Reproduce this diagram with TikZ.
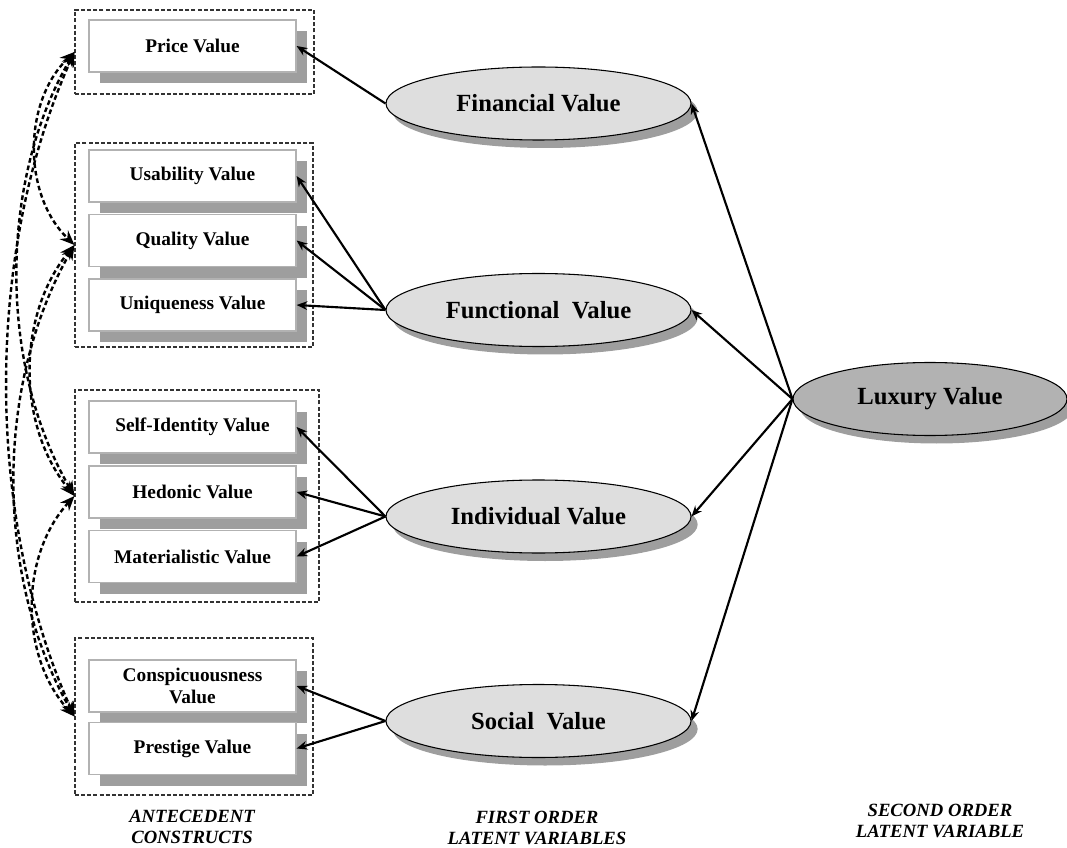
\documentclass[tikz,border=0pt]{standalone}
\usepackage{fontspec}
\setmainfont{Liberation Serif}
\usetikzlibrary{shapes.geometric,shadows,arrows.meta}

\definecolor{shadowgray}{RGB}{158,158,158}
\definecolor{latentfill}{RGB}{222,222,222}
\definecolor{luxfill}{RGB}{178,178,178}

\tikzset{
  item/.style={draw=gray!60, fill=white, line width=0.9pt, minimum width=155.25pt,
    minimum height=39pt, inner sep=0pt, align=center,
    font=\bfseries\fontsize{14.5}{17}\selectfont,
    drop shadow={shadow xshift=8pt, shadow yshift=-8.5pt, fill=shadowgray, opacity=1}},
  grp/.style={draw=black!80, dash pattern=on 3pt off 1.6pt, line width=0.8pt, inner sep=0pt},
  latent/.style={ellipse, draw, fill=latentfill, line width=0.8pt, minimum width=228.75pt,
    minimum height=54.75pt, inner sep=0pt, font=\bfseries\fontsize{18.5}{20}\selectfont,
    drop shadow={shadow xshift=5pt, shadow yshift=-6pt, fill=shadowgray, opacity=1}},
  caption/.style={align=center, font=\bfseries\itshape\fontsize{14}{15.5}\selectfont},
  load/.style={-{Stealth[length=8pt,width=6.5pt]}, line width=1.6pt},
  cov/.style={{Stealth[length=11pt,width=9pt]}-{Stealth[length=11pt,width=9pt]},
    dash pattern=on 3.5pt off 2.2pt, line width=1.8pt}
}

\begin{document}
\begin{tikzpicture}[x=0.75pt,y=0.75pt,yscale=-1,xscale=1]
\useasboundingbox (0,0) rectangle (1067,848);

% Groups
\node[grp, minimum width=179.25pt, minimum height=63pt] (grp1) at (194.5,52) {};
\node[grp, minimum width=178.5pt, minimum height=153pt] (grp2) at (194,245) {};
\node[grp, minimum width=183pt, minimum height=159pt] (grp3) at (197,496) {};
\node[grp, minimum width=178.5pt, minimum height=117.75pt] (grp4) at (194,716.5) {};

% Antecedent constructs
\node[item] (price) at (192.5,46) {Price Value};
\node[item] (usab) at (192.5,176) {Usability Value};
\node[item] (qual) at (192.5,240.5) {Quality Value};
\node[item] (uniq) at (192.5,305) {Uniqueness Value};
\node[item] (self) at (192.5,427) {Self-Identity Value};
\node[item] (hedo) at (192.5,492) {Hedonic Value};
\node[item] (mate) at (192.5,556.5) {Materialistic Value};
\node[item] (consp) at (192.5,686) {Conspicuousness\\[0pt]Value};
\node[item] (prest) at (192.5,748.5) {Prestige Value};

% First order latent variables
\node[latent] (fin) at (538.5,103.5) {Financial Value};
\node[latent] (func) at (538.5,310) {Functional~~Value};
\node[latent] (indiv) at (538.5,516.5) {Individual Value};
\node[latent] (soc) at (538.5,721) {Social~~Value};

% Second order latent variable
\node[latent, fill=luxfill, minimum width=205.5pt] (lux) at (930,399) {Luxury Value};

% Loadings
\draw[load] (fin.west) -- (price.east);
\draw[load] (func.west) -- (usab.east);
\draw[load] (func.west) -- (qual.east);
\draw[load] (func.west) -- (uniq.east);
\draw[load] (indiv.west) -- (self.east);
\draw[load] (indiv.west) -- (hedo.east);
\draw[load] (indiv.west) -- (mate.east);
\draw[load] (soc.west) -- (consp.east);
\draw[load] (soc.west) -- (prest.east);

\draw[load] (lux.west) -- (fin.east);
\draw[load] (lux.west) -- (func.east);
\draw[load] (lux.west) -- (indiv.east);
\draw[load] (lux.west) -- (soc.east);

% Covariances
\draw[cov] (grp1.west) .. controls +(-52,50) and +(-52,-50) .. (grp2.west);
\draw[cov] (grp1.west) .. controls +(-76,130) and +(-76,-130) .. (grp3.west);
\draw[cov] (grp1.west) .. controls +(-90,200) and +(-90,-200) .. (grp4.west);
\draw[cov] (grp2.west) .. controls +(-58,70) and +(-58,-70) .. (grp3.west);
\draw[cov] (grp2.west) .. controls +(-80,140) and +(-80,-140) .. (grp4.west);
\draw[cov] (grp3.west) .. controls +(-55,60) and +(-55,-60) .. (grp4.west);

% Text Node
\node[caption] (antlab) at (192,827) {ANTECEDENT\\CONSTRUCTS};
% Text Node
\node[caption] (firstlab) at (537,828) {FIRST ORDER\\LATENT VARIABLES};
% Text Node
\node[caption] (secondlab) at (940,821) {SECOND ORDER\\LATENT VARIABLE};

\end{tikzpicture}
\end{document}
